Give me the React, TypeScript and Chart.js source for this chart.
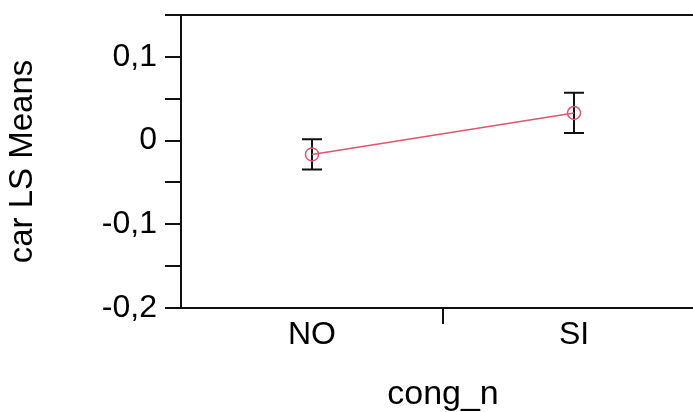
import React, { useEffect, useRef } from "react";
import { Chart, registerables } from "chart.js";

Chart.register(...registerables);

const categories = ["NO", "SI"];
const means = [-0.0165, 0.033];
const lowerCI = [-0.0345, 0.009];
const upperCI = [0.0015, 0.057];
const yMin = -0.2;
const yMax = 0.15;
const yStep = 0.05;

const FONT = "'Liberation Sans', Arial, sans-serif";
const LINE_COLOR = "#e0566c";

const errorBarPlugin = {
  id: "errorBars",
  beforeDatasetsDraw(chart: any) {
    const { ctx, scales } = chart;
    const xs = scales.x;
    const ys = scales.y;
    ctx.save();
    ctx.strokeStyle = "#111";
    ctx.lineWidth = 2;
    categories.forEach((_, i) => {
      const x = xs.getPixelForValue(i);
      const yl = ys.getPixelForValue(lowerCI[i]);
      const yu = ys.getPixelForValue(upperCI[i]);
      ctx.beginPath();
      ctx.moveTo(x, yl);
      ctx.lineTo(x, yu);
      ctx.moveTo(x - 10, yl);
      ctx.lineTo(x + 10, yl);
      ctx.moveTo(x - 10, yu);
      ctx.lineTo(x + 10, yu);
      ctx.stroke();
    });
    ctx.restore();
  },
};

const topBorderPlugin = {
  id: "topBorder",
  afterDraw(chart: any) {
    const { ctx, chartArea } = chart;
    ctx.save();
    ctx.strokeStyle = "#111";
    ctx.lineWidth = 2;
    ctx.beginPath();
    ctx.moveTo(chartArea.left, chartArea.top);
    ctx.lineTo(chartArea.right, chartArea.top);
    ctx.stroke();
    ctx.restore();
  },
};

function fmt(v: number): string {
  const r = Math.round(v * 20);
  if (r % 2 !== 0) return "";
  if (r === 0) return "0";
  return (r / 20).toFixed(1).replace(".", ",");
}

export default function App() {
  const ref = useRef<HTMLCanvasElement | null>(null);
  useEffect(() => {
    if (!ref.current) return;
    const chart = new Chart(ref.current, {
      type: "line",
      data: {
        labels: categories,
        datasets: [
          {
            data: means,
            borderColor: LINE_COLOR,
            borderWidth: 1.5,
            pointRadius: 6.5,
            pointBorderWidth: 1.5,
            pointBorderColor: LINE_COLOR,
            pointBackgroundColor: "rgba(0,0,0,0)",
            pointStyle: "circle",
            fill: false,
            tension: 0,
          },
        ],
      },
      options: {
        animation: false,
        responsive: false,
        events: [],
        layout: { padding: { top: 15, right: 15, left: 0, bottom: 0 } },
        plugins: { legend: { display: false }, tooltip: { enabled: false } },
        scales: {
          x: {
            type: "category",
            offset: true,
            afterFit(scale: any) {
              scale.height = 104;
              scale.paddingLeft = 0;
              scale.paddingRight = 0;
            },
            grid: {
              offset: true,
              drawOnChartArea: false,
              tickLength: 16,
              lineWidth: 2,
              color: (c: any) => (c.index === 1 ? "#111" : "rgba(0,0,0,0)"),
            },
            border: { display: true, color: "#111", width: 2 },
            ticks: {
              color: "#000",
              font: { family: FONT, size: 32 },
              padding: -8,
              maxRotation: 0,
            },
            title: {
              display: true,
              text: "cong_n",
              color: "#000",
              font: { family: FONT, size: 34 },
              padding: { top: 0, bottom: -3 },
            },
          },
          y: {
            min: yMin,
            max: yMax,
            afterFit(scale: any) {
              scale.width = 181;
              scale.paddingTop = 0;
              scale.paddingBottom = 0;
            },
            afterBuildTicks(scale: any) {
              const t = [];
              for (let k = Math.round(yMin / yStep); k <= Math.round(yMax / yStep); k++) {
                t.push({ value: k * yStep });
              }
              scale.ticks = t;
            },
            grid: {
              drawOnChartArea: false,
              tickLength: 16,
              lineWidth: 2,
              color: "#111",
            },
            border: { display: true, color: "#111", width: 2 },
            ticks: {
              color: "#000",
              font: { family: FONT, size: 32 },
              padding: 8,
              callback: (v: any) => fmt(Number(v)),
            },
            title: {
              display: true,
              text: "car LS Means",
              color: "#000",
              font: { family: FONT, size: 33 },
              padding: { top: 3, bottom: 0 },
            },
          },
        },
      },
      plugins: [errorBarPlugin, topBorderPlugin],
    });
    return () => chart.destroy();
  }, []);
  return (
    <div
      style={{
        position: "fixed",
        left: 0,
        top: 0,
        width: 693,
        height: 412,
        overflow: "hidden",
        background: "#fff",
      }}
    >
      <canvas ref={ref} width={720} height={412} style={{ display: "block" }} />
    </div>
  );
}
